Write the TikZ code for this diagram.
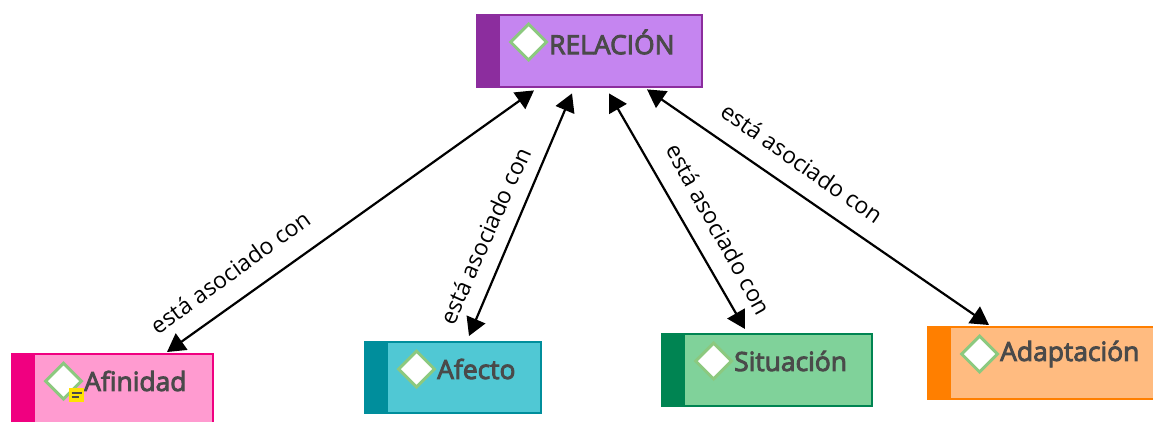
\documentclass[tikz,border=0pt]{standalone}
\usepackage{fontspec}
\setmainfont{Open Sans}
\usetikzlibrary{shapes.geometric,arrows.meta}
\definecolor{txt}{HTML}{4A4A4A}
\definecolor{icong}{HTML}{8CC97F}
\newcommand{\heavy}[1]{\special{pdf:code 2 Tr 0.9 w}#1\special{pdf:code 0 Tr 0 w}}
\tikzset{
  box/.style={rectangle,draw=#1,line width=2.4pt,anchor=north west,inner sep=0pt},
  title/.style={anchor=west,inner sep=0pt,text=txt,font=\fontsize{26.4}{26.4}\selectfont},
  icon/.style={diamond,draw=icong,fill=white,line width=3pt,minimum width=37pt,minimum height=37pt,inner sep=0pt},
  link/.style={line width=2.2pt,{Triangle[length=18pt,width=20pt]}-{Triangle[length=18pt,width=20pt]}},
  lab/.style={font=\fontsize{23}{23}\selectfont,text=black,inner sep=0pt}
}
\newcommand{\conceptbox}[9]{%
  \node[box=#7,fill=#6,minimum width=#4pt,minimum height=#5pt] (#1) at (#2,#3) {};
  \fill[#7] (#1.north west) rectangle ([xshift=24pt]#1.south west);
  \node[icon] (#9) at (#2+52.5,#3+28) {};
  \node[title,anchor=west] (#1t) at (#2+73,#3+28) {\heavy{#8}};
}
\definecolor{relF}{HTML}{C585F0}\definecolor{relB}{HTML}{8C2D9E}
\definecolor{afiF}{HTML}{FF9BD0}\definecolor{afiB}{HTML}{F00080}
\definecolor{afeF}{HTML}{50C8D4}\definecolor{afeB}{HTML}{008E9C}
\definecolor{sitF}{HTML}{80D29A}\definecolor{sitB}{HTML}{008452}
\definecolor{adaF}{HTML}{FFBB80}\definecolor{adaB}{HTML}{FF7F00}
\begin{document}
\begin{tikzpicture}[x=1pt,y=-1pt]
\useasboundingbox (0,0) rectangle (1153,421);
\begin{scope}
\clip (0,0) rectangle (1153,421);
\conceptbox{rel}{476}{14}{225}{72}{relF}{relB}{RELACIÓN}{ir}
\conceptbox{afi}{11}{353}{201}{80}{afiF}{afiB}{Afinidad}{ia}
\conceptbox{afe}{364}{341}{176}{71}{afeF}{afeB}{Afecto}{ie}
\conceptbox{sit}{661}{333}{210}{72}{sitF}{sitB}{Situación}{is}
\conceptbox{ada}{927}{326}{228}{72}{adaF}{adaB}{Adaptación}{id}
\end{scope}
\node[rectangle,fill=yellow!85!orange,minimum width=15pt,minimum height=14pt,inner sep=0pt] (note) at (76.5,395) {};
\draw[line width=1.8pt,txt] ([xshift=-5pt,yshift=2pt]note.center) -- ++(10pt,0);
\draw[line width=1.8pt,txt] ([xshift=-5pt,yshift=-2pt]note.center) -- ++(7pt,0);
\draw[link] ([xshift=58pt,yshift=-2pt]rel.south west) -- ([xshift=156pt,yshift=1pt]afi.north west);
\draw[link] ([xshift=96pt,yshift=-5pt]rel.south west)  -- ([xshift=105pt,yshift=5pt]afe.north west);
\draw[link] ([xshift=133pt,yshift=-5pt]rel.south west) -- ([xshift=84pt,yshift=4pt]sit.north west);
\draw[link] ([xshift=171pt,yshift=-1pt]rel.south west) -- ([xshift=62pt,yshift=1pt]ada.north west);
\node[lab,rotate=36] (l1) at (230,272) {está asociado con};
\node[lab,rotate=66] (l2) at (485,236) {está asociado con};
\node[lab,rotate=-61] (l3) at (719,229) {está asociado con};
\node[lab,rotate=-35] (l4) at (802,163) {está asociado con};
\end{tikzpicture}
\end{document}
